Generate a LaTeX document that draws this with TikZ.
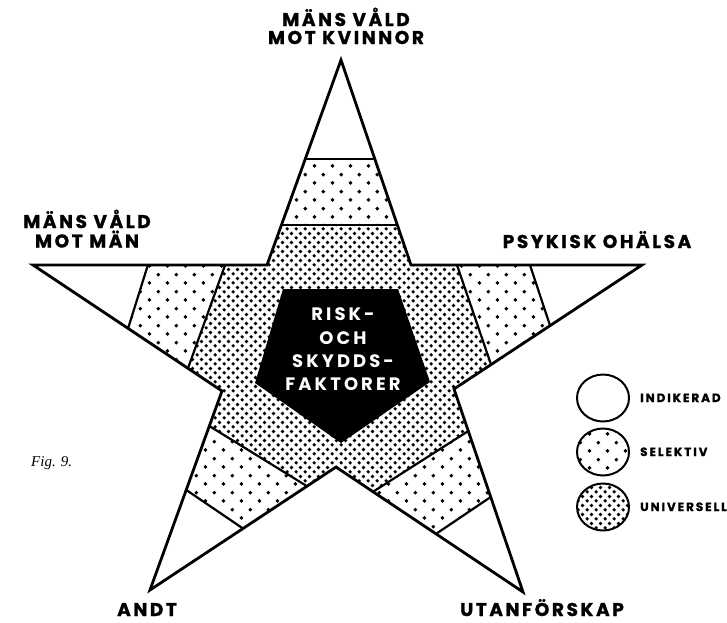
\documentclass[tikz,border=0pt]{standalone}
\usepackage{fontspec}
\usetikzlibrary{calc,patterns.meta,shapes.geometric}
\newfontfamily\labfont{Poppins}[LetterSpace=14, BoldFeatures={FakeBold=1.2}]
\newfontfamily\ctrfont{Poppins}[LetterSpace=17]
\newfontfamily\legfont{Poppins}[LetterSpace=16, BoldFeatures={FakeBold=1.2}]
\newfontfamily\figfont{Liberation Serif}

\tikzdeclarepattern{
  name=selektivdots,
  type=uncolored,
  bounding box={(0pt,0pt) and (18.3pt,16.7pt)},
  tile size={(18.3pt,16.7pt)},
  code={
    \pgfpathcircle{\pgfpoint{4.575pt}{4.175pt}}{2pt}
    \pgfpathcircle{\pgfpoint{13.725pt}{12.525pt}}{2pt}
    \pgfusepath{fill}
  }
}
\tikzdeclarepattern{
  name=universelldots,
  type=uncolored,
  bounding box={(0pt,0pt) and (9.3pt,9.3pt)},
  tile size={(9.3pt,9.3pt)},
  code={
    \pgfpathcircle{\pgfpoint{2.325pt}{2.325pt}}{1.95pt}
    \pgfpathcircle{\pgfpoint{6.975pt}{6.975pt}}{1.95pt}
    \pgfusepath{fill}
  }
}

\tikzset{
  starline/.style={line width=2.8pt, line join=miter},
  bandline/.style={line width=2.2pt, line cap=round},
  selfill/.style={pattern=selektivdots, pattern color=black},
  unifill/.style={pattern=universelldots, pattern color=black},
  lab/.style={font=\labfont\bfseries\fontsize{18.5}{18.5}\selectfont, anchor=base, inner sep=0pt},
  ctrlab/.style={font=\ctrfont\bfseries\fontsize{18}{18}\selectfont, anchor=base, inner sep=0pt, text=white},
  leglab/.style={font=\legfont\bfseries\fontsize{12}{12}\selectfont, anchor=base west, inner sep=0pt},
  legc/.style={ellipse, draw, line width=2pt, minimum width=52pt, minimum height=47pt, inner sep=0pt},
  figlab/.style={font=\figfont\itshape\fontsize{15}{15}\selectfont, anchor=base west, inner sep=0pt}
}

\begin{document}
\begin{tikzpicture}[x=1pt,y=-1pt]
\useasboundingbox (0,0) rectangle (727,622);

% star vertices
\coordinate (T) at (341,60);
\coordinate (L) at (33,265);
\coordinate (R) at (642,265);
\coordinate (BL) at (150,590);
\coordinate (BR) at (523,592);
\coordinate (I1) at (267,265);
\coordinate (I2) at (411,265);
\coordinate (I3) at (454,389);
\coordinate (I4) at (336,467);
\coordinate (I5) at (222,391);

% band points
\coordinate (a1) at ($(T)!0.483!(I1)$);
\coordinate (b1) at ($(T)!0.483!(I2)$);
\coordinate (a2) at ($(T)!0.805!(I1)$);
\coordinate (b2) at ($(T)!0.805!(I2)$);
\coordinate (c1) at ($(R)!0.485!(I2)$);
\coordinate (d1) at ($(R)!0.489!(I3)$);
\coordinate (c2) at ($(R)!0.801!(I2)$);
\coordinate (d2) at ($(R)!0.803!(I3)$);
\coordinate (e1) at ($(BR)!0.468!(I3)$);
\coordinate (f1) at ($(BR)!0.465!(I4)$);
\coordinate (e2) at ($(BR)!0.793!(I3)$);
\coordinate (f2) at ($(BR)!0.802!(I4)$);
\coordinate (g1) at ($(BL)!0.5!(I4)$);
\coordinate (h1) at ($(BL)!0.503!(I5)$);
\coordinate (g2) at ($(BL)!0.844!(I4)$);
\coordinate (h2) at ($(BL)!0.824!(I5)$);
\coordinate (k1) at ($(L)!0.503!(I5)$);
\coordinate (m1) at ($(L)!0.491!(I1)$);
\coordinate (k2) at ($(L)!0.820!(I5)$);
\coordinate (m2) at ($(L)!0.821!(I1)$);

% selektiv bands
\fill[selfill] (a1) -- (b1) -- (b2) -- (a2) -- cycle;
\fill[selfill] (c1) -- (c2) -- (d2) -- (d1) -- cycle;
\fill[selfill] (e1) -- (e2) -- (f2) -- (f1) -- cycle;
\fill[selfill] (g1) -- (g2) -- (h2) -- (h1) -- cycle;
\fill[selfill] (k1) -- (k2) -- (m2) -- (m1) -- cycle;

% universell core
\fill[unifill] (a2) -- (b2) -- (I2) -- (c2) -- (d2) -- (I3) -- (e2) -- (f2)
  -- (I4) -- (g2) -- (h2) -- (I5) -- (k2) -- (m2) -- (I1) -- cycle;

% black centre
\fill[black] (283,289) -- (398,289) -- (430,382) -- (341,443) -- (255,383) -- cycle;

% band lines
\draw[bandline] (a1) -- (b1);
\draw[bandline] (a2) -- (b2);
\draw[bandline] (c1) -- (d1);
\draw[bandline] (c2) -- (d2);
\draw[bandline] (e1) -- (f1);
\draw[bandline] (e2) -- (f2);
\draw[bandline] (g1) -- (h1);
\draw[bandline] (g2) -- (h2);
\draw[bandline] (k1) -- (m1);
\draw[bandline] (k2) -- (m2);

% star outline
\draw[starline] (T) -- (I2) -- (R) -- (I3) -- (BR) -- (I4) -- (BL) -- (I5) -- (L) -- (I1) -- cycle;

% centre text
\node[ctrlab] (c1t) at (343,320) {RISK-};
\node[ctrlab] (c2t) at (343,344) {OCH};
\node[ctrlab] (c3t) at (343,367) {SKYDDS-};
\node[ctrlab] (c4t) at (343,390) {FAKTORER};

% arm labels
\node[lab] (t1) at (346,26) {MÄNS VÅLD};
\node[lab] (t2) at (346,44) {MOT KVINNOR};
\node[lab] (l1) at (87,228) {MÄNS VÅLD};
\node[lab] (l2) at (87,247.5) {MOT MÄN};
\node[lab] (r1) at (597,248) {PSYKISK OHÄLSA};
\node[lab] (bl1) at (147,616) {ANDT};
\node[lab] (br1) at (542,616) {UTANFÖRSKAP};

% legend
\node[legc] (leg1) at (603,398) {};
\node[legc, selfill] (leg2) at (603,452) {};
\node[legc, unifill] (leg3) at (603,507) {};
\node[leglab] (leg1t) at (640,402) {INDIKERAD};
\node[leglab] (leg2t) at (640,456) {SELEKTIV};
\node[leglab] (leg3t) at (640,511) {UNIVERSELL};

\node[figlab] (fig) at (31,466) {Fig. 9.};
\end{tikzpicture}
\end{document}
